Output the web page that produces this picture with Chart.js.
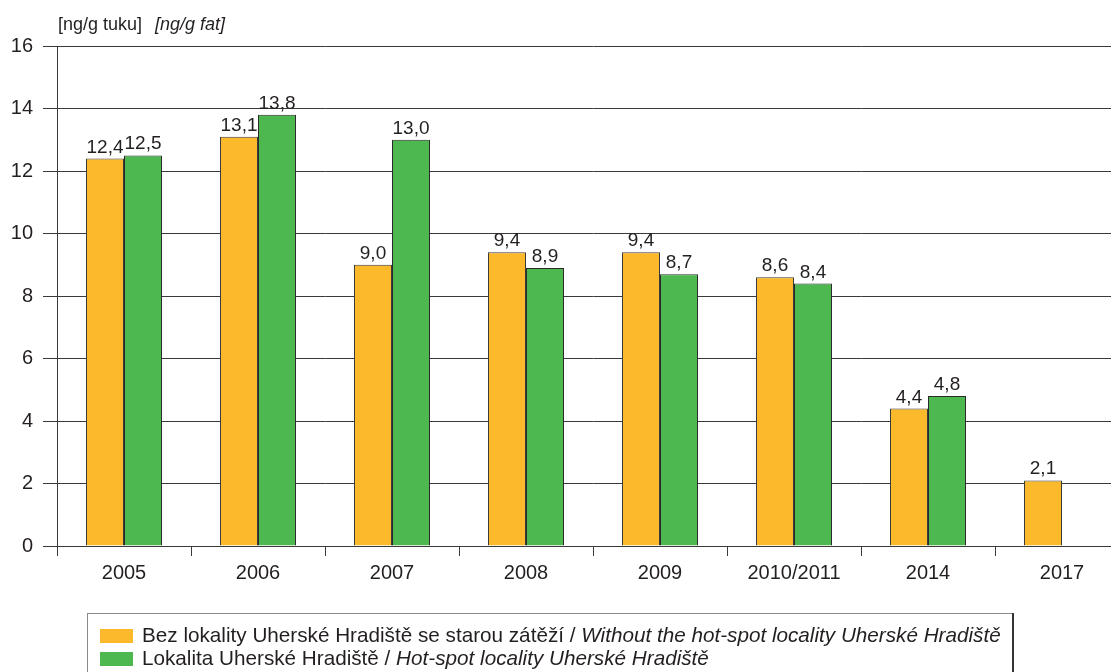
<!DOCTYPE html>
<html>
<head>
<meta charset="utf-8">
<script src="https://cdn.jsdelivr.net/npm/chart.js@4/dist/chart.umd.min.js"></script>
<style>
  html, body { margin: 0; padding: 0; background: #fff; overflow: hidden; }
  #wrap { width: 1135px; height: 672px; }
</style>
</head>
<body>
<div id="wrap"><canvas id="barChart" width="1135" height="672"></canvas></div>
<script>
// Roky odběru
const years = ['2005', '2006', '2007', '2008', '2009', '2010/2011', '2014', '2017'];
// Bez lokality Uherské Hradiště
const valuesWithout = [12.4, 13.1, 9.0, 9.4, 9.4, 8.6, 4.4, 2.1];
// Lokalita Uherské Hradiště (2017 bez hodnoty)
const valuesHotspot = [12.5, 13.8, 13.0, 8.9, 8.7, 8.4, 4.8, null];
const yTicks = [0, 2, 4, 6, 8, 10, 12, 14, 16];

const labelWithoutCz = 'Bez lokality Uherské Hradiště se starou zátěží / ';
const labelWithoutEn = 'Without the hot-spot locality Uherské Hradiště';
const labelHotspotCz = 'Lokalita Uherské Hradiště / ';
const labelHotspotEn = 'Hot-spot locality Uherské Hradiště';
const unitCz = '[ng/g tuku]';
const unitEn = '[ng/g fat]';

const FONT = '"Liberation Sans", Arial, sans-serif';
const TEXT = '#231f20';
const LINE = '#3a3a3a';

// hodnoty nad sloupci (desetinná čárka)
const valueLabels = {
    id: 'valueLabels',
    afterDatasetsDraw(chart) {
        const c = chart.ctx;
        c.save();
        c.font = '19px ' + FONT;
        c.fillStyle = TEXT;
        c.textAlign = 'center';
        c.textBaseline = 'alphabetic';
        chart.data.datasets.forEach((ds, i) => {
            chart.getDatasetMeta(i).data.forEach((bar, j) => {
                const v = ds.data[j];
                if (v === null) return;
                c.fillText(v.toFixed(1).replace('.', ','), bar.x, bar.y - 6);
            });
        });
        c.restore();
    }
};

// jednotky nad osou y a legenda v rámečku
const extras = {
    id: 'extras',
    afterDraw(chart) {
        const c = chart.ctx;
        c.save();
        c.fillStyle = TEXT;
        c.textBaseline = 'middle';
        c.font = '18px ' + FONT;
        c.fillText(unitCz, 58, 25);
        let w = c.measureText(unitCz).width;
        c.font = 'italic 18px ' + FONT;
        c.fillText(unitEn, 58 + w + 13, 25);

        // rámeček legendy
        c.strokeStyle = '#8a8a8a';
        c.lineWidth = 1;
        c.strokeRect(87.5, 613.5, 925, 70);
        c.fillStyle = '#333';
        c.fillRect(1012, 613, 2, 60);

        const rows = [
            [chart.data.datasets[0].backgroundColor, labelWithoutCz, labelWithoutEn, 636],
            [chart.data.datasets[1].backgroundColor, labelHotspotCz, labelHotspotEn, 659]
        ];
        rows.forEach(r => {
            c.fillStyle = r[0];
            c.fillRect(100, r[3] - 7, 33, 14);
            c.fillStyle = TEXT;
            c.font = '20.7px ' + FONT;
            c.fillText(r[1], 142, r[3]);
            const tw = c.measureText(r[1]).width;
            c.font = 'italic 20.7px ' + FONT;
            c.fillText(r[2], 142 + tw, r[3]);
        });
        c.restore();
    }
};

new Chart(document.getElementById('barChart').getContext('2d'), {
    type: 'bar',
    data: {
        labels: years,
        datasets: [{
            label: labelWithoutCz + labelWithoutEn,
            data: valuesWithout,
            backgroundColor: '#fbb92b',
            borderColor: '#3a3a3a',
            borderWidth: 1,
            borderSkipped: 'bottom',
            categoryPercentage: 0.567,
            barPercentage: 1
        }, {
            label: labelHotspotCz + labelHotspotEn,
            data: valuesHotspot,
            backgroundColor: '#4cb84f',
            borderColor: '#2a2a2a',
            borderWidth: 1,
            borderSkipped: 'bottom',
            categoryPercentage: 0.567,
            barPercentage: 1
        }]
    },
    options: {
        responsive: false,
        animation: false,
        layout: { padding: { top: 46, right: 6, left: 0, bottom: 0 } },
        plugins: {
            legend: { display: false },
            tooltip: { enabled: false }
        },
        scales: {
            x: {
                grid: {
                    offset: true,
                    drawOnChartArea: false,
                    drawTicks: true,
                    tickLength: 10,
                    color: LINE
                },
                border: { color: LINE, width: 1 },
                ticks: {
                    color: TEXT,
                    font: { family: FONT, size: 20 },
                    padding: 5,
                    maxRotation: 0
                },
                afterFit(axis) { axis.height = 126; }
            },
            y: {
                min: 0,
                max: 16,
                afterBuildTicks(axis) { axis.ticks = yTicks.map(v => ({ value: v })); },
                grid: {
                    color: LINE,
                    lineWidth: 1,
                    drawTicks: true,
                    tickLength: 14
                },
                border: { color: LINE, width: 1 },
                ticks: {
                    color: TEXT,
                    font: { family: FONT, size: 20 },
                    padding: 10
                },
                afterFit(axis) { axis.width = 57; }
            }
        }
    },
    plugins: [valueLabels, extras]
});
</script>
</body>
</html>
